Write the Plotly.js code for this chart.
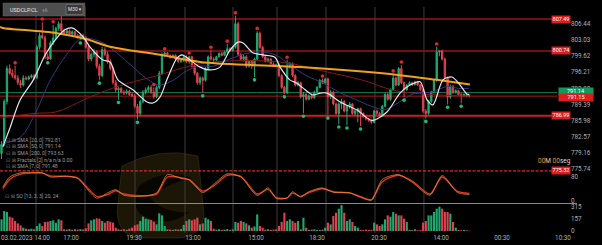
<!DOCTYPE html>
<html><head><meta charset="utf-8">
<script src="https://cdn.plot.ly/plotly-3.0.1.min.js"></script>
<style>html,body{margin:0;padding:0;background:#000;overflow:hidden}#chart{width:602px;height:245px;}</style>
</head><body><div id="chart"></div>
<script>
// ---------- DATA ----------
const openP = [779.0,781.0,790.0,797.0,796.0,795.5,795.0,794.0,793.5,795.0,
794.8,795.2,795.5,795.0,801.5,804.0,803.5,799.5,799.0,802.5,
803.5,805.5,806.5,805.0,804.5,805.0,804.3,804.8,804.0,803.6,
804.0,803.5,801.5,799.0,800.0,800.5,797.5,795.5,801.0,800.0,
798.5,797.0,794.0,792.5,792.8,792.0,791.8,792.2,791.5,791.2,
789.0,787.5,790.0,792.0,792.5,793.0,792.0,791.0,793.0,796.0,
800.0,800.3,799.8,799.4,799.8,799.0,798.5,798.8,799.5,798.5,
799.5,797.5,796.0,794.0,795.0,794.5,797.0,799.5,799.0,798.8,
799.5,800.2,799.8,800.5,801.2,800.8,801.5,806.5,800.0,799.0,
799.5,797.5,798.5,797.5,799.0,804.5,801.5,799.5,798.5,799.0,
798.0,797.5,797.8,795.5,793.0,791.8,797.5,798.0,795.5,793.5,
794.0,791.0,791.5,790.5,791.2,790.8,792.0,793.0,794.5,794.0,
794.8,791.0,792.0,789.5,787.5,789.5,790.0,788.0,789.0,789.5,
787.5,788.0,788.5,787.5,786.8,786.3,786.0,785.6,788.0,787.5,
787.0,789.0,791.5,790.5,792.5,795.0,793.5,797.0,794.0,792.5,
793.5,794.0,793.6,794.2,793.5,792.5,788.0,787.5,790.0,792.0,
794.5,800.5,800.7,799.0,795.0,791.0,793.2,792.0,792.3,791.5,
791.3,791.5,791.25];
const highP = [781.6,790.5,797.6,797.9,796.8,797.6,795.6,794.6,795.6,795.4,
795.5,795.8,795.9,802.0,804.6,806.8,804.0,800.2,802.9,806.2,
805.9,807.0,808.3,805.5,805.4,805.3,805.1,805.0,804.3,804.3,
804.4,803.9,802.0,800.4,801.2,800.9,798.0,801.6,801.5,800.6,
799.0,797.4,794.6,793.2,793.1,792.4,792.6,792.5,791.9,791.6,
789.5,790.4,792.4,793.0,793.4,793.5,793.0,793.4,796.5,800.4,
800.6,800.5,800.0,800.0,800.0,799.3,799.0,799.8,799.8,799.7,
799.7,797.9,796.3,795.4,795.3,797.3,799.8,800.9,799.4,799.7,
800.4,800.5,800.8,802.2,801.5,801.7,808.2,806.9,800.4,799.9,
799.8,798.8,798.7,799.3,804.9,804.8,801.8,799.8,799.3,799.2,
798.3,798.0,798.1,795.8,793.3,798.8,798.4,798.3,795.8,794.4,
794.2,792.0,791.8,791.5,791.5,792.3,793.3,794.8,794.9,795.0,
795.1,792.4,792.3,789.8,789.8,790.6,790.3,789.3,789.9,789.7,
788.3,788.7,788.7,787.7,787.0,786.6,786.2,788.3,788.3,787.8,
789.3,791.8,791.8,792.8,795.8,795.3,797.3,797.8,794.3,793.7,
794.3,794.2,794.4,794.4,793.7,792.8,788.4,790.3,792.3,794.8,
801.6,800.9,801.0,799.3,795.3,793.6,793.5,792.6,792.5,791.8,
791.7,791.6,791.4];
const lowP = [777.8,780.6,789.4,795.7,795.0,794.6,793.5,792.9,793.2,794.5,
794.5,794.9,794.6,794.8,801.0,803.2,799.0,798.8,798.9,802.0,
803.2,805.0,804.6,804.2,804.2,804.0,804.0,803.7,803.3,803.0,
803.2,801.2,798.6,798.5,799.4,797.0,794.5,795.2,799.6,798.0,
796.6,793.6,792.0,790.4,791.7,791.4,791.5,791.2,790.9,788.6,
786.2,787.0,789.6,791.5,792.0,791.6,790.6,790.7,792.6,795.7,
799.4,799.5,799.1,799.2,798.8,798.2,798.2,798.4,798.2,798.0,
797.2,795.6,793.6,793.5,791.8,794.2,796.7,798.7,798.4,798.6,
799.3,799.6,799.6,800.2,800.5,800.6,801.2,799.6,798.6,798.5,
797.1,797.2,796.9,795.2,798.8,801.2,799.2,798.3,798.3,797.8,
797.3,797.3,795.2,792.7,791.6,791.6,797.0,795.2,793.2,793.2,
790.7,787.5,790.2,790.3,790.5,790.6,791.8,792.8,793.7,793.8,
787.2,790.5,789.2,787.2,785.2,788.4,787.7,785.0,788.5,787.2,
787.0,785.6,784.8,786.6,786.0,785.7,785.3,785.4,787.2,786.7,
786.8,788.8,790.2,790.2,792.3,793.2,793.3,793.7,790.9,792.3,
793.3,793.3,793.4,793.3,792.3,787.6,786.4,787.2,789.7,791.7,
794.2,799.6,798.7,794.7,789.4,790.6,791.6,791.7,791.3,789.6,
791.0,791.0,790.9];
const closeP = [781.0,790.0,797.0,796.0,795.5,795.0,794.0,793.5,795.0,794.8,
795.2,795.5,795.0,801.5,804.0,803.5,799.5,799.0,802.5,803.5,
805.5,806.5,805.0,804.5,805.0,804.3,804.8,804.0,803.6,804.0,
803.5,801.5,799.0,800.0,800.5,797.5,795.5,801.0,800.0,798.5,
797.0,794.0,792.5,792.8,792.0,791.8,792.2,791.5,791.2,789.0,
787.5,790.0,792.0,792.5,793.0,792.0,791.0,793.0,796.0,800.0,
800.3,799.8,799.4,799.8,799.0,798.5,798.8,799.5,798.5,799.5,
797.5,796.0,794.0,795.0,794.5,797.0,799.5,799.0,798.8,799.5,
800.2,799.8,800.5,801.2,800.8,801.5,806.5,800.0,799.0,799.5,
797.5,798.5,797.5,799.0,804.5,801.5,799.5,798.5,799.0,798.0,
797.5,797.8,795.5,793.0,791.8,797.5,798.0,795.5,793.5,794.0,
791.0,791.5,790.5,791.2,790.8,792.0,793.0,794.5,794.0,794.8,
791.0,792.0,789.5,787.5,789.5,790.0,788.0,789.0,789.5,787.5,
788.0,788.5,787.5,786.8,786.3,786.0,785.6,788.0,787.5,787.0,
789.0,791.5,790.5,792.5,795.0,793.5,797.0,794.0,792.5,793.5,
794.0,793.6,794.2,793.5,792.5,788.0,787.5,790.0,792.0,794.5,
800.5,800.7,799.0,795.0,791.0,793.2,792.0,792.3,791.5,791.3,
791.5,791.2,791.15];
const volume = [153,262,249,188,175,131,100,74,44,30,
25,30,22,66,100,66,118,122,131,140,
109,153,140,22,18,25,15,22,18,25,
20,35,100,140,153,166,162,131,109,131,
122,109,44,22,18,22,15,30,44,74,
87,131,188,162,153,144,122,87,232,205,
66,22,18,15,22,18,25,80,131,153,
140,153,175,87,100,175,153,131,30,18,
22,15,18,25,15,22,118,109,131,118,
100,74,44,60,218,66,44,18,22,15,
18,20,66,118,240,131,153,131,109,131,
22,175,44,15,18,22,12,15,18,44,
109,87,197,240,293,340,240,131,153,118,
66,44,15,12,18,15,12,109,87,66,
87,153,205,188,249,227,205,205,162,118,
15,12,22,10,12,109,131,205,205,249,
293,319,293,249,249,227,118,44,13,9,
13,9,4];

// moving averages (candle index, price)
const sma7X = [0.5,3.1,6.8,11.6,16,19.7,23.3,25.9,30,32.5,37.3,39.9,42.8,48.3,53.5,55.7,58.3,60.8,64.5,66.4,69.3,73,76.7,80.3,84,87,88.8,92.5,96.1,100.5,102.4,106,108.6,110.8,114.5,117.1,119.7,124.5,130.7,136.2,141.7,146.5,150.2,153.9,156.4,158.6,162.3,165.6,168.6,171.1,172];
const sma7Y = [780.4,784.4,790.3,794.5,799.8,803.0,805.2,805.6,803.7,801.6,798.8,798.4,794.6,792.5,789.9,789.7,791.0,794.6,799.2,799.9,798.8,797.3,796.7,797.3,800.9,802.6,802.4,800.3,799.9,799.4,797.3,794.6,793.9,792.9,791.4,791.8,791.8,789.9,788.2,786.0,787.8,791.8,793.5,794.2,790.4,789.3,794.6,795.2,793.5,791.6,791.48];
const sma20X = [0,7,12,18,24,29,36,42,48,53,58,63,68,73,78,84,90,96,101,106,112,118,124,130,136,141,146,152,158,164,168,172];
const sma20Y = [781,782.5,787,794.6,800,803.2,802.8,800.5,797.5,795,793.5,794.5,796.5,797.5,797.5,799,800.2,800.5,799.8,797.8,795.5,794,792,790.5,789,788.3,789.8,791.8,792,793.2,792.8,792.81];
const sma50X = [0,12,20,30,36,46,56,73,90,105,118,133,144,155,165,172];
const sma50Y = [786.5,787.5,787.8,790.3,791.8,793.8,795.3,798.0,798.7,798.2,796.5,794.5,792.4,791.6,791.3,791.14];
const sma200X = [-0.55,0.5,20.4,31.4,39.9,58.3,73,109.7,146.5,160.1,172.2];
const sma200Y = [805.8,805.6,804.5,803.2,801.6,799.9,798.4,797.3,795.6,794.6,793.63];

// fractals (candle index, dot price)
const fracUpX = [5,15,19,56,60,69,77,83,86,94,105,118,144,147,160];
const fracUpY = [798.2,807.5,806.9,793.6,801.2,800.3,801.5,802.8,808.8,805.5,799.4,795.4,796.5,798.4,802.2];
const fracDnX = [17,29,36,43,50,74,93,104,111,120,124,127,132,148,156,164,169];
const fracDnY = [798.2,802.4,793.9,789.8,785.6,791.2,794.6,791.0,786.9,786.5,784.6,784.4,784.2,790.3,785.8,788.8,789.0];

// stochastic oscillator SO [13,3,3]
const soX = [0.5,3,7,15,18,24,28,35,39,42,45,51,57,61,66,69,74,78,83,88,94,98,101,105,107,110,113,118,122,128,132,136,140,146,151,157.5,162,167.5,172];
const soK = [46,80,94,94,80,83,75,8,26,37,18,14,26,88,75,70,27,55,91,80,17,43,7,9,30,12,30,43,28,26,11,1,72,88,62,18,85,28,20];
const soD = [40,72,90,93,84,82,77,14,20,33,22,16,22,80,78,71,32,50,86,82,22,38,10,8,25,14,27,40,30,26,13,3,64,86,66,22,80,32,24];

// axis labels
const priceTicks = [806.44,803.03,799.62,796.21,792.80,789.39,785.98,782.57,779.16,775.74];
const timeTickPos = [5.6,14.89,25.55,48.71,70.4,93.57,116.0,138.8,161.58,184.0,206.4];
const timeTickText = ["03.02.2023","14:00","17:00","19:30","13:00","15:00","18:30","20:30","14:00","00:30","10:30"];
const sessionStarts = [12.68,30.7,49.08,67.46,85.1,101.3,119.3,137.3,155.3];

// price levels
const levels = [
  {p:807.49, label:"807.49", color:"rgb(150,22,22)", w:1.5},
  {p:800.74, label:"800.74", color:"rgb(150,22,22)", w:1.5},
  {p:786.99, label:"786.99", color:"rgb(205,30,30)", w:2},
];
const bidPrice = 791.15, askLine = 791.9, askLabel = "791.14";
const lowLevel = 775.32;

const legendLines = ["SMA [20, 0] 792.81","SMA [50, 0] 791.14","SMA [200, 0] 793.63","Fractals [2] n/a n/a 0.00","SMA [7, 0] 791.48"];

// ---------- RENDER ----------
const G = '#1fa971', R = '#e0414f';
const PW = 570, PH = 233;
const px = x => x / PW;
const py = y => (PH - y) / PH;
const idx = closeP.map((_, i) => i);
const font = 'Roboto, "DejaVu Sans", sans-serif';

const traces = [
  {type:'candlestick', x:idx, open:openP, high:highP, low:lowP, close:closeP,
   increasing:{line:{color:G,width:1}, fillcolor:G}, decreasing:{line:{color:R,width:1}, fillcolor:R},
   whiskerwidth:0, hoverinfo:'skip', showlegend:false, xaxis:'x', yaxis:'y'},
  {type:'scatter', mode:'lines', x:sma50X, y:sma50Y, line:{color:'rgb(135,25,25)', width:1, shape:'spline'}, hoverinfo:'skip', xaxis:'x', yaxis:'y'},
  {type:'scatter', mode:'lines', x:sma20X, y:sma20Y, line:{color:'rgb(55,55,125)', width:1, shape:'spline'}, hoverinfo:'skip', xaxis:'x', yaxis:'y'},
  {type:'scatter', mode:'lines', x:sma200X, y:sma200Y, line:{color:'#f0a020', width:2, shape:'spline'}, hoverinfo:'skip', xaxis:'x', yaxis:'y'},
  {type:'scatter', mode:'lines', x:sma7X, y:sma7Y, line:{color:'#e6e6ee', width:1.2, shape:'spline', smoothing:0.8}, hoverinfo:'skip', xaxis:'x', yaxis:'y'},
  {type:'scatter', mode:'markers', x:fracUpX, y:fracUpY, marker:{color:'#e0262a', size:3.6}, hoverinfo:'skip', xaxis:'x', yaxis:'y'},
  {type:'scatter', mode:'markers', x:fracDnX, y:fracDnY, marker:{color:'#1fba7a', size:3.6}, hoverinfo:'skip', xaxis:'x', yaxis:'y'},
  {type:'scatter', mode:'lines', x:soX, y:soD, line:{color:'#e0321c', width:1.4, shape:'spline', smoothing:0.7}, hoverinfo:'skip', xaxis:'x', yaxis:'y2'},
  {type:'scatter', mode:'lines', x:soX, y:soK, line:{color:'#e89a3a', width:0.7, shape:'spline', smoothing:0.7}, hoverinfo:'skip', xaxis:'x', yaxis:'y2'},
  {type:'bar', x:idx, y:volume, marker:{color:closeP.map((c,i)=> c>=openP[i]?G:R), line:{width:0}}, hoverinfo:'skip', xaxis:'x', yaxis:'y3'}
];

const shapes = [];
// watermark
const P = (x,y) => px(x).toFixed(4)+','+py(y).toFixed(4);
shapes.push({type:'path', xref:'paper', yref:'paper', layer:'below',
  path:`M${P(122,166)} Q${P(160,146)} ${P(198,156)} L${P(204,214)} Q${P(202,236)} ${P(180,238)} L${P(136,238)} Q${P(118,234)} ${P(117,212)} Z`,
  fillcolor:'rgba(75,62,18,0.36)', line:{color:'rgba(105,88,28,0.3)', width:1}});
shapes.push({type:'path', xref:'paper', yref:'paper', layer:'below',
  path:`M${P(140,185)} Q${P(165,168)} ${P(192,178)} Q${P(165,184)} ${P(150,198)} Q${P(165,214)} ${P(190,212)} Q${P(165,230)} ${P(140,214)} Q${P(130,200)} ${P(140,185)} Z`,
  fillcolor:'rgba(0,0,0,0.7)', line:{width:0}});
// session separators
sessionStarts.forEach(s => shapes.push({type:'line', xref:'x', yref:'paper', x0:s, x1:s, y0:0, y1:py(7), layer:'below', line:{color:'#3c3c3c', width:1}}));
// price levels
levels.forEach(l => shapes.push({type:'line', xref:'paper', yref:'y', x0:0, x1:px(552), y0:l.p, y1:l.p, layer:'below', line:{color:l.color, width:l.w}}));
shapes.push({type:'line', xref:'paper', yref:'y', x0:0, x1:px(557), y0:askLine, y1:askLine, layer:'below', line:{color:'rgb(25,120,80)', width:1}});
shapes.push({type:'line', xref:'paper', yref:'y', x0:0, x1:px(557), y0:bidPrice, y1:bidPrice, layer:'below', line:{color:'rgb(165,28,28)', width:1}});
shapes.push({type:'line', xref:'paper', yref:'y', x0:0, x1:px(552), y0:lowLevel, y1:lowLevel, layer:'below', line:{color:'rgb(210,45,45)', width:1.4, dash:'3px,1.5px'}});
// oscillator / volume separator
shapes.push({type:'line', xref:'paper', yref:'paper', x0:0, x1:px(577), y0:py(203.5), y1:py(203.5), line:{color:'#8a8a8a', width:1}});
// header box
shapes.push({type:'rect', xref:'paper', yref:'paper', x0:px(3), x1:px(85), y0:py(16), y1:py(3), fillcolor:'rgba(85,85,85,0.92)', line:{color:'#666', width:0.5}});
shapes.push({type:'rect', xref:'paper', yref:'paper', x0:px(66), x1:px(83), y0:py(14.5), y1:py(4.5), fillcolor:'#3a3a3a', line:{color:'#888', width:0.5}});

const ann = [];
const boxLabel = (x, y, yref, text, bg, size, w, ys) => ann.push({xref:'paper', yref:yref, x:x, y:y, yshift:ys||0, xanchor:'center', yanchor:'middle', text:text, showarrow:false, bgcolor:bg, borderpad:0, width:w, height:size+1, font:{family:font, size:size, color:'#fff'}});
levels.forEach(l => boxLabel(px(561), l.p, 'y', l.label, '#d81e1e', 5.5, 18));
boxLabel(px(561), lowLevel, 'y', '775.32', '#d81e1e', 5.5, 18);
boxLabel(px(575.5), askLine, 'y', askLabel, '#13985c', 5.6, 34, 1.2);
boxLabel(px(575.5), bidPrice, 'y', bidPrice.toFixed(2), '#d81e1e', 5.6, 34, -1.2);
// countdown
ann.push({xref:'paper', yref:'paper', x:px(536), y:py(161), xanchor:'left', yanchor:'middle', showarrow:false,
  text:'<span style="color:#e89a2a">00</span>M <span style="color:#e89a2a">00</span>seg', font:{family:font, size:6.5, color:'#d8d8d8'}});
// header texts
ann.push({xref:'paper', yref:'paper', x:px(8), y:py(9.5), xanchor:'left', yanchor:'middle', showarrow:false, text:'USDCLP.CL', font:{family:font, size:5.5, color:'#e4e4e4'}});
ann.push({xref:'paper', yref:'paper', x:px(40), y:py(9.5), xanchor:'left', yanchor:'middle', showarrow:false, text:'+6', font:{family:font, size:5, color:'#9a9a9a'}});
ann.push({xref:'paper', yref:'paper', x:px(74.5), y:py(9.5), xanchor:'center', yanchor:'middle', showarrow:false, text:'M30 ▾', font:{family:font, size:4.8, color:'#e0e0e0'}});
// indicator legend
legendLines.forEach((t, k) => ann.push({xref:'paper', yref:'paper', x:px(4), y:py(140 + k*6.5), xanchor:'left', yanchor:'middle', showarrow:false,
  text:'<span style="color:#777">⊟ ⊠</span> ' + t, font:{family:font, size:5.2, color:'#9a9a9a'}}));
ann.push({xref:'paper', yref:'paper', x:px(3), y:py(196), xanchor:'left', yanchor:'middle', showarrow:false,
  text:'<span style="color:#777">⊟ ⊠</span> SO [13, 3, 3] 20, 24', font:{family:font, size:5.2, color:'#9a9a9a'}});

const tickFont = {family:font, size:6.3, color:'#b0b0b0'};
const layout = {
  width:602, height:245, margin:{l:0, r:32, t:0, b:12, pad:0},
  paper_bgcolor:'#000', plot_bgcolor:'#000', showlegend:false, bargap:0.22,
  xaxis:{domain:[0,1], range:[-0.55,209.0], anchor:'y3', tickmode:'array', tickvals:timeTickPos, ticktext:timeTickText,
    tickfont:tickFont, tickangle:0, showgrid:false, zeroline:false, showline:false, ticks:'', ticklabeloverflow:'allow',
    rangeslider:{visible:false}, fixedrange:true},
  yaxis:{domain:[61/233,1], range:[775.08,811.52], side:'right', anchor:'x', tickmode:'array', tickvals:priceTicks,
    ticktext:priceTicks.map(v=>v.toFixed(2)), tickfont:tickFont, showgrid:false, zeroline:false, ticks:'', fixedrange:true},
  yaxis2:{domain:[30/233,61/233], range:[-8.5,97], side:'right', anchor:'x', tickmode:'array', tickvals:[0,80], ticktext:['0','80'],
    tickfont:tickFont, showgrid:false, zeroline:false, ticks:'', fixedrange:true},
  yaxis3:{domain:[0,30/233], range:[-26.25,367.5], side:'right', anchor:'x', tickmode:'array', tickvals:[0,157,315], ticktext:['0','157','315'],
    tickfont:tickFont, showgrid:false, zeroline:false, ticks:'', fixedrange:true},
  shapes:shapes, annotations:ann
};
Plotly.newPlot('chart', traces, layout, {staticPlot:true, displayModeBar:false});
</script></body></html>
